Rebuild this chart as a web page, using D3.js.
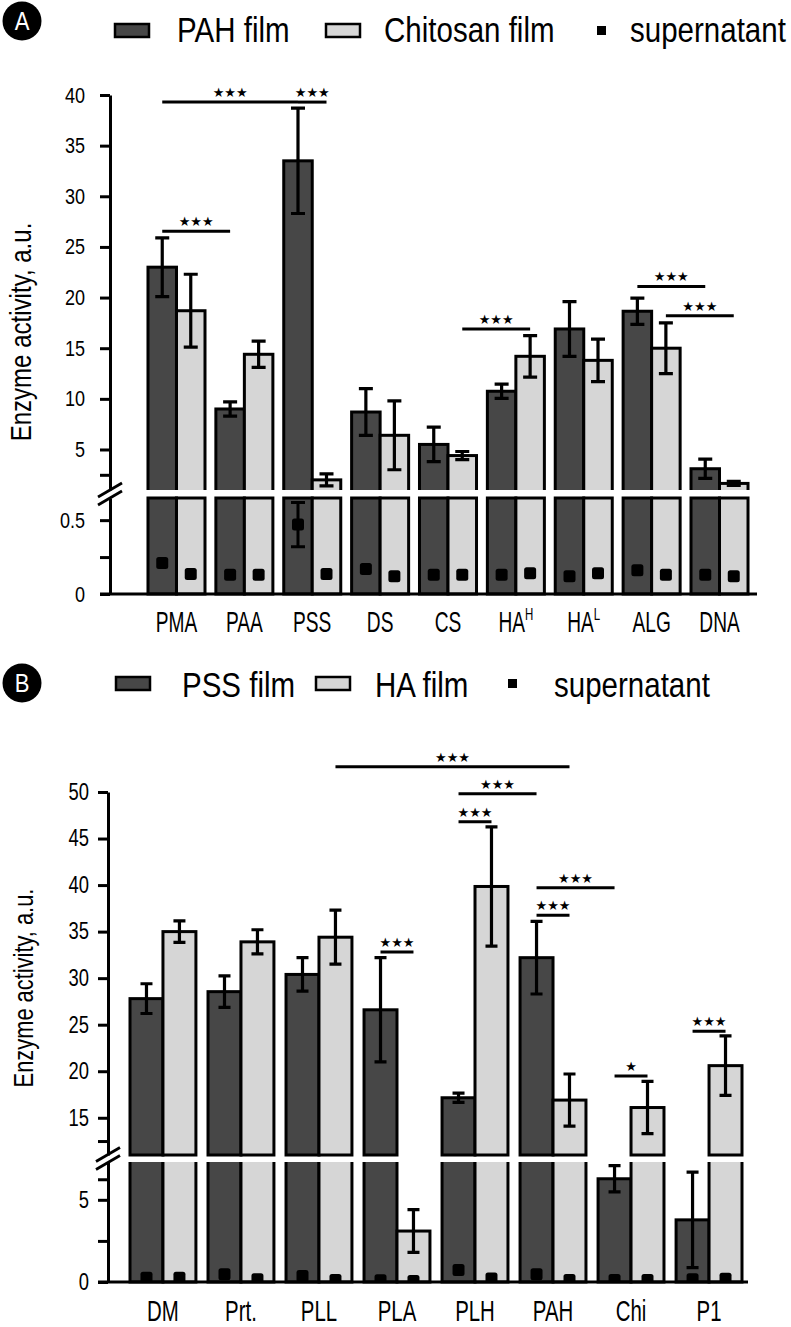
<!DOCTYPE html>
<html><head><meta charset="utf-8">
<script src="https://cdn.jsdelivr.net/npm/d3@7"></script>
<style>
body{margin:0;background:#fff}
svg{display:block}
text{font-family:"Liberation Sans",Arial,sans-serif;fill:#000}
.star{font-family:"DejaVu Sans",sans-serif}
</style></head><body>
<svg id="chart" width="791" height="1327"></svg>
<script>
// ---------------- Panel A data ----------------
const catsA = ["PMA","PAA","PSS","DS","CS","HAH","HAL","ALG","DNA"];
const catLabelsA = ["PMA","PAA","PSS","DS","CS","HA","HA","ALG","DNA"];
const catSupA = ["","","","","","H","L","",""];
const pahFilm      = [23.0, 9.0, 33.5, 8.7, 5.5, 10.75, 16.9, 18.65, 3.1];
const pahFilmErr   = [2.9, 0.7, 5.2, 2.3, 1.7, 0.7, 2.7, 1.3, 0.95];
const chitosanFilm = [18.7, 14.4, 2.0, 6.4, 4.4, 14.2, 13.8, 15.0, 1.65];
const chitosanFilmErr = [3.6, 1.3, 0.6, 3.4, 0.4, 2.05, 2.1, 2.5, 0.2];
const supPAH       = [0.21, 0.13, 0.47, 0.17, 0.13, 0.13, 0.12, 0.16, 0.13];
const supPAHErr    = [0, 0, 0.15, 0, 0, 0, 0, 0, 0];
const supChitosan  = [0.135, 0.13, 0.135, 0.12, 0.13, 0.14, 0.14, 0.13, 0.12];
const supChitosanErr = [0, 0, 0, 0, 0, 0, 0, 0, 0];
const ticksUpperA = [2.5, 5, 10, 15, 20, 25, 30, 35, 40];
const labelsUpperA = [5, 10, 15, 20, 25, 30, 35, 40];
const ticksLowerA = [0, 0.25, 0.5];
const labelsLowerA = [0, 0.5];
const legendA = ["PAH film", "Chitosan film", "supernatant"];
// brackets: [cat1, series1, cat2, series2, level, label]
const bracketsA = [
  ["PMA",0,"PSS",0,39.3,"★★★"],
  ["PSS",0,"PSS",1,39.3,"★★★"],
  ["PMA",0,"PAA",0,26.55,"★★★"],
  ["CS",1,"HAH",1,16.9,"★★★"],
  ["ALG",0,"DNA",0,21.1,"★★★"],
  ["ALG",1,"DNA",1,18.2,"★★★"]
];

// ---------------- Panel B data ----------------
const catsB = ["DM","Prt.","PLL","PLA","PLH","PAH","Chi","P1"];
const pssFilm    = [27.8, 28.55, 30.4, 26.6, 17.15, 32.2, 6.28, 3.78];
const pssFilmErr = [1.6, 1.7, 1.8, 5.6, 0.5, 3.9, 0.8, 2.9];
const haFilm     = [35.0, 33.9, 34.4, 3.1, 39.85, 16.9, 16.1, 20.6];
const haFilmErr  = [1.15, 1.3, 2.9, 1.3, 6.4, 2.8, 2.8, 3.2];
const supPSS     = [0.26, 0.47, 0.37, 0.1, 0.73, 0.47, 0.12, 0.16];
const supPSSErr  = [0, 0, 0, 0, 0, 0, 0, 0];
const supHA      = [0.26, 0.16, 0.12, 0.06, 0.22, 0.12, 0.12, 0.2];
const supHAErr   = [0, 0, 0, 0, 0, 0, 0, 0];
const ticksUpperB = [12.5, 15, 20, 25, 30, 35, 40, 45, 50];
const labelsUpperB = [15, 20, 25, 30, 35, 40, 45, 50];
const ticksLowerB = [0, 2.5, 5, 6.25];
const labelsLowerB = [0, 5];
const legendB = ["PSS film", "HA film", "supernatant"];
const bracketsB = [
  ["PLL",1,"PAH",1,52.7,"★★★"],
  ["PLH",0,"PAH",0,49.8,"★★★"],
  ["PLH",0,"PLH",1,46.8,"★★★"],
  ["PLA",0,"PLA",1,32.8,"★★★"],
  ["PAH",0,"Chi",0,39.7,"★★★"],
  ["PAH",0,"PAH",1,36.75,"★★★"],
  ["Chi",0,"Chi",1,19.5,"★"],
  ["P1",0,"P1",1,24.3,"★★★"]
];

const DARK = "#474747", LIGHT = "#d6d6d6";
const svg = d3.select("#chart");
const defs = svg.append("defs");

// condensed text helper (horizontal squeeze to mimic a condensed face)
function txt(g, x, y, str, fs, s, anchor) {
  return g.append("text")
    .attr("transform", `translate(${x},${y}) scale(${s},1)`)
    .attr("text-anchor", anchor || "start").attr("font-size", fs).text(str);
}

function drawPanel(o) {
  const g = svg.append("g");
  const x0 = d3.scaleBand().domain(o.cats).range(o.xRange).paddingInner(o.padIn).paddingOuter(o.padOut);
  const x1 = d3.scaleBand().domain(d3.range(o.series.length)).range([0, x0.bandwidth()]);
  const yU = d3.scaleLinear().domain(o.upperDomain).range(o.upperRange);
  const yL = d3.scaleLinear().domain(o.lowerDomain).range(o.lowerRange);
  const uMin = o.upperDomain[0], lMax = o.lowerDomain[1];
  const yBU = yU(uMin), yTL = yL(lMax), y0 = yL(0);
  const bw = x1.bandwidth();
  const bx = (ci, si) => x0(o.cats[ci]) + x1(si);
  const bc = (c, si) => x0(c) + x1(si) + bw / 2;

  defs.append("clipPath").attr("id", o.id + "cu").append("rect")
    .attr("x", 0).attr("y", 0).attr("width", 791).attr("height", yBU);
  defs.append("clipPath").attr("id", o.id + "cl").append("rect")
    .attr("x", 0).attr("y", yTL).attr("width", 791).attr("height", 1327 - yTL);
  defs.append("clipPath").attr("id", o.id + "cm").append("rect")
    .attr("x", 0).attr("y", yTL).attr("width", 791).attr("height", y0 - yTL);

  // bars
  o.series.forEach((s, si) => {
    const rows = s.values.map((v, i) => ({v, i}));
    g.append("g").attr("clip-path", o.upperOpen ? `url(#${o.id}cu)` : null)
      .selectAll("rect").data(rows.filter(d => d.v > uMin)).join("rect")
      .attr("x", d => bx(d.i, si)).attr("width", bw)
      .attr("y", d => yU(d.v))
      .attr("height", d => (o.upperOpen ? yBU + 20 : yBU) - yU(d.v))
      .attr("fill", s.fill).attr("stroke", "#000").attr("stroke-width", 3);
    const topL = d => d.v >= lMax ? (o.lowerOpen ? yTL - 20 : yTL) : yL(d.v);
    g.append("g").attr("clip-path", o.lowerOpen ? `url(#${o.id}cl)` : null)
      .selectAll("rect").data(rows).join("rect")
      .attr("x", d => bx(d.i, si)).attr("width", bw)
      .attr("y", topL)
      .attr("height", d => y0 - topL(d))
      .attr("fill", s.fill).attr("stroke", "#000").attr("stroke-width", 3);
  });

  // error bars
  const eb = g.append("g").attr("stroke", "#000").attr("stroke-width", 3.2).attr("fill", "none");
  o.series.forEach((s, si) => {
    s.values.forEach((v, i) => {
      const e = s.errors[i];
      if (!e) return;
      const y = v > uMin ? yU : yL;
      const cx = bx(i, si) + bw / 2;
      const hw = o.capW / 2;
      eb.append("path").attr("d",
        `M${cx},${y(v - e)}V${y(v + e)}M${cx - hw},${y(v + e)}H${cx + hw}M${cx - hw},${y(v - e)}H${cx + hw}`);
    });
  });

  // supernatant markers
  const sm = g.append("g").attr("clip-path", `url(#${o.id}cm)`);
  o.sup.forEach((s, si) => {
    s.values.forEach((v, i) => {
      const cx = bx(i, si) + bw / 2;
      sm.append("rect").attr("x", cx - o.markS / 2).attr("y", yL(v) - o.markS / 2)
        .attr("width", o.markS).attr("height", o.markS).attr("rx", 2.5).attr("fill", "#000");
      const e = s.errors[i];
      if (e) {
        const hw = o.capW / 2;
        sm.append("path").attr("stroke", "#000").attr("stroke-width", 3).attr("fill", "none")
          .attr("d", `M${cx},${yL(v - e)}V${yL(v + e)}M${cx - hw},${yL(v + e)}H${cx + hw}M${cx - hw},${yL(v - e)}H${cx + hw}`);
      }
    });
  });

  // axes
  const styleAxis = (sel) => {
    sel.attr("font-family", null).attr("font-size", null);
    sel.select(".domain").attr("stroke-width", 3);
    sel.selectAll(".tick line").attr("stroke-width", 3);
    sel.selectAll(".tick text").each(function () {
      const t = d3.select(this);
      const x = +t.attr("x");
      t.attr("x", 0).attr("font-size", o.tickFs)
        .attr("transform", `translate(${x},0) scale(${o.tickScale},1)`);
    });
  };
  const axU = d3.axisLeft(yU).tickValues(o.ticksU).tickSize(10).tickSizeOuter(0).tickPadding(o.tickPad)
    .tickFormat(d => o.labelsU.includes(d) ? d3.format("~g")(d) : "");
  const axL = d3.axisLeft(yL).tickValues(o.ticksL).tickSize(10).tickSizeOuter(0).tickPadding(o.tickPad)
    .tickFormat(d => o.labelsL.includes(d) ? d3.format("~g")(d) : "");
  g.append("g").attr("transform", `translate(${o.axisX},0)`).call(axU).call(styleAxis);
  g.append("g").attr("transform", `translate(${o.axisX},0)`).call(axL).call(styleAxis);

  // x axis line
  g.append("line").attr("x1", o.axisX - 10).attr("x2", o.xAxisEnd).attr("y1", y0).attr("y2", y0)
    .attr("stroke", "#000").attr("stroke-width", 3);

  // break marks
  const mid = (yBU + yTL) / 2;
  [-4, 4].forEach(off => {
    g.append("line").attr("x1", o.axisX - 12).attr("y1", mid + off + 7)
      .attr("x2", o.axisX + 12).attr("y2", mid + off - 7)
      .attr("stroke", "#000").attr("stroke-width", 2.8);
  });

  // category labels
  o.cats.forEach((c, i) => {
    const t = txt(g, x0(c) + x0.bandwidth() / 2, o.catY, null, o.catFs, o.catScale, "middle");
    t.append("tspan").text(o.catLabels[i]);
    if (o.catSup[i]) t.append("tspan").attr("font-size", o.catFs * 0.6).attr("dy", -o.catFs * 0.4).text(o.catSup[i]);
  });

  // significance brackets
  o.brackets.forEach(([c1, s1, c2, s2, lvl, lab]) => {
    const xa = bc(c1, s1), xb = bc(c2, s2), yy = yU(lvl);
    g.append("line").attr("x1", xa).attr("x2", xb).attr("y1", yy).attr("y2", yy)
      .attr("stroke", "#000").attr("stroke-width", 3);
    g.append("text").attr("class", "star").attr("x", (xa + xb) / 2).attr("y", yy - 5)
      .attr("text-anchor", "middle").attr("font-size", 13).text(lab);
  });

  // y label
  g.append("text").attr("transform", `translate(${o.yLabX},${o.yLabY}) rotate(-90) scale(${o.yLabScale},1)`)
    .attr("text-anchor", "middle").attr("font-size", o.yLabFs).text("Enzyme activity, a.u.");

  // panel letter
  g.append("circle").attr("cx", 22).attr("cy", o.circY).attr("r", 19.5).attr("fill", "#000");
  txt(g, 22, o.circY + 9, o.letter, 26, 0.85, "middle").style("fill", "#fff");

  // legend
  const sy = o.swY, ty = o.legBase;
  g.append("rect").attr("x", o.leg[0]).attr("y", sy).attr("width", 34).attr("height", 13)
    .attr("fill", DARK).attr("stroke", "#000").attr("stroke-width", 2.5);
  txt(g, o.leg[1], ty, o.legTexts[0], 36, 0.82);
  g.append("rect").attr("x", o.leg[2]).attr("y", sy).attr("width", 34).attr("height", 13)
    .attr("fill", LIGHT).attr("stroke", "#000").attr("stroke-width", 2.5);
  txt(g, o.leg[3], ty, o.legTexts[1], 36, 0.82);
  g.append("rect").attr("x", o.leg[4]).attr("y", sy + 2).attr("width", 9).attr("height", 9).attr("fill", "#000");
  txt(g, o.leg[5], ty, o.legTexts[2], 36, 0.82);
}

drawPanel({
  id: "A", letter: "A", cats: catsA, catLabels: catLabelsA, catSup: catSupA,
  xRange: [141.2, 754.8], padIn: 0.16, padOut: 0.1,
  series: [{values: pahFilm, errors: pahFilmErr, fill: DARK}, {values: chitosanFilm, errors: chitosanFilmErr, fill: LIGHT}],
  sup: [{values: supPAH, errors: supPAHErr}, {values: supChitosan, errors: supChitosanErr}],
  upperDomain: [1, 40], upperRange: [490, 95], lowerDomain: [0, 0.65], lowerRange: [594, 498],
  upperOpen: true, lowerOpen: false,
  ticksU: ticksUpperA, labelsU: labelsUpperA, ticksL: ticksLowerA, labelsL: labelsLowerA,
  axisX: 110, xAxisEnd: 757, tickPad: 15, tickFs: 22, tickScale: 0.82, capW: 14, markS: 12,
  catY: 632, catFs: 29, catScale: 0.66,
  brackets: bracketsA,
  yLabX: 31, yLabY: 332, yLabFs: 29, yLabScale: 0.83,
  circY: 21, swY: 24, legBase: 42, leg: [115, 177, 326, 384, 597, 630], legTexts: legendA
});

drawPanel({
  id: "B", letter: "B", cats: catsB, catLabels: catsB, catSup: catsB.map(() => ""),
  xRange: [122.2, 749.8], padIn: 0.155, padOut: 0.1,
  series: [{values: pssFilm, errors: pssFilmErr, fill: DARK}, {values: haFilm, errors: haFilmErr, fill: LIGHT}],
  sup: [{values: supPSS, errors: supPSSErr}, {values: supHA, errors: supHAErr}],
  upperDomain: [11, 50], upperRange: [1155, 792], lowerDomain: [0, 7.3], lowerRange: [1282, 1162],
  upperOpen: false, lowerOpen: true,
  ticksU: ticksUpperB, labelsU: labelsUpperB, ticksL: ticksLowerB, labelsL: labelsLowerB,
  axisX: 108, xAxisEnd: 748, tickPad: 9, tickFs: 23, tickScale: 0.8, capW: 12, markS: 12,
  catY: 1321, catFs: 30, catScale: 0.68,
  brackets: bracketsB,
  yLabX: 33, yLabY: 988, yLabFs: 27, yLabScale: 0.81,
  circY: 683, swY: 677, legBase: 697, leg: [116, 182, 316, 375, 508, 554], legTexts: legendB
});
</script>
</body></html>
